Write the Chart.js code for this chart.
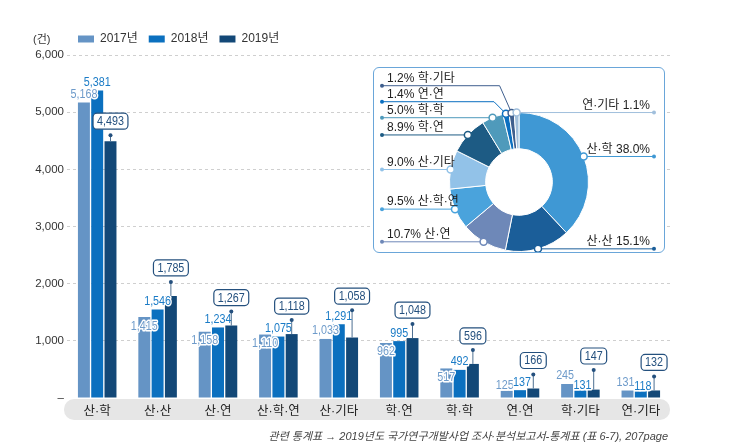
<!DOCTYPE html>
<html>
<head>
<meta charset="utf-8">
<script src="https://cdn.jsdelivr.net/npm/chart.js@4"></script>
<style>
  html, body { margin: 0; padding: 0; background: #fff; }
  #wrap { position: relative; width: 738px; height: 447px; }
  #barBox { position: absolute; left: 0; top: 0; width: 738px; height: 447px; }
  #pieBox { position: absolute; left: 373px; top: 67px; width: 292px; height: 186px; box-sizing: border-box;
            border: 1px solid #6aa6d9; border-radius: 6px; background: #fff; }
  #pieInner { position: absolute; left: 0; top: 0; width: 290px; height: 184px; }
</style>
</head>
<body>
<div id="wrap">
  <div id="barBox"><canvas id="bars"></canvas></div>
  <div id="pieBox"><div id="pieInner"><canvas id="pie"></canvas></div></div>
</div>
<script>
// data
const categories = ['산·학', '산·산', '산·연', '산·학·연', '산·기타', '학·연', '학·학', '연·연', '학·기타', '연·기타'];
const years = ['2017년', '2018년', '2019년'];
const counts2017 = [5168, 1415, 1158, 1110, 1033, 962, 517, 125, 245, 131];
const counts2018 = [5381, 1546, 1234, 1075, 1291, 995, 492, 137, 131, 118];
const counts2019 = [4493, 1785, 1267, 1118, 1058, 1048, 596, 166, 147, 132];
const shares2019 = [38.0, 15.1, 10.7, 9.5, 9.0, 8.9, 5.0, 1.4, 1.2, 1.1];
const yTicks = [0, 1000, 2000, 3000, 4000, 5000, 6000];

const yearColors = ['#6594c5', '#0b70bf', '#134877'];
const pieColors = ['#3f98d4', '#1b5e99', '#6e88b8', '#4aa3dc', '#92c2e8',
                   '#1d5b84', '#4f9abb', '#0b6fc0', '#3f5f8e', '#a1bfdc'];

// Liberation first so the middle dot stays narrow, hangul falls back to Noto CJK
const FONT = "'Liberation Sans', 'Noto Sans CJK KR', sans-serif";

const fmt = v => v.toLocaleString('en-US');

// narrow-looking text: squeeze horizontally a bit
function squeezedText(ctx, txt, x, y, color, outline) {
  ctx.save();
  ctx.translate(x, y);
  ctx.scale(0.86, 1);
  if (outline) {
    ctx.strokeStyle = '#fff';
    ctx.lineWidth = 3;
    ctx.strokeText(txt, 0, 0);
  }
  ctx.fillStyle = color;
  ctx.fillText(txt, 0, 0);
  ctx.restore();
}

// grey band behind the category names, unit label and source line
const categoryBand = {
  id: 'categoryBand',
  beforeDraw(chart) {
    const x = chart.scales.x, ctx = chart.ctx;
    ctx.save();
    ctx.fillStyle = '#e6e6e6';
    ctx.beginPath();
    ctx.roundRect(x.left - 3, x.top + 1, x.right - x.left + 2, x.bottom - x.top - 2, 10);
    ctx.fill();
    ctx.restore();
  },
  afterDraw(chart) {
    const ctx = chart.ctx;
    ctx.save();
    ctx.fillStyle = '#333';
    ctx.font = '11px ' + FONT;
    ctx.textBaseline = 'middle';
    ctx.fillText('(건)', 33, chart.legend.top + 18);
    ctx.fillStyle = '#444';
    ctx.font = 'italic 11px ' + FONT;
    ctx.textAlign = 'right';
    ctx.textBaseline = 'alphabetic';
    ctx.fillText('관련 통계표 → 2019년도 국가연구개발사업 조사·분석보고서-통계표 (표 6-7), 207page', 668, 440);
    ctx.restore();
  }
};

// value labels: plain for 2017/2018, boxed callout for 2019
const barLabels = {
  id: 'barLabels',
  afterDatasetsDraw(chart) {
    const ctx = chart.ctx;
    const m17 = chart.getDatasetMeta(0).data;
    const m18 = chart.getDatasetMeta(1).data;
    const m19 = chart.getDatasetMeta(2).data;
    const base = chart.scales.y.getPixelForValue(0);
    ctx.save();
    ctx.font = '12.5px ' + FONT;
    ctx.textAlign = 'center';
    ctx.textBaseline = 'middle';
    ctx.lineJoin = 'round';
    categories.forEach((c, i) => {
      const b17 = m17[i], b18 = m18[i], b19 = m19[i];
      let x17 = b17.x, x18 = b18.x;
      let y17 = b17.y - 8, y18 = b18.y - 8;
      if (Math.abs(y17 - y18) < 12) {
        if (base - b17.y > 20) {
          y17 = b17.y + 9;
        } else if (b17.y > b18.y) {
          y17 = Math.min(y18 + 11, b17.y - 5); x17 -= 2; x18 += 2;
        } else {
          y18 = Math.min(y17 + 11, b18.y - 5); x17 -= 2; x18 += 2;
        }
      }
      squeezedText(ctx, fmt(counts2017[i]), x17, y17, '#6e9bca', true);
      squeezedText(ctx, fmt(counts2018[i]), x18, y18, '#1a7bc6', true);

      const top = Math.min(b17.y, b18.y, b19.y);
      const diff = b19.y - top;
      const lead = diff > 40 ? 6 : diff + 14;
      const dotY = b19.y - lead;
      ctx.strokeStyle = '#4d6f91';
      ctx.lineWidth = 1;
      ctx.beginPath();
      ctx.moveTo(b19.x, b19.y);
      ctx.lineTo(b19.x, dotY);
      ctx.stroke();
      ctx.fillStyle = '#24507e';
      ctx.beginPath();
      ctx.arc(b19.x, dotY, 2, 0, Math.PI * 2);
      ctx.fill();

      const txt = fmt(counts2019[i]);
      const w = ctx.measureText(txt).width * 0.86 + 8, h = 16;
      const bx = b19.x - w / 2, by = dotY - 6 - h;
      ctx.beginPath();
      ctx.roundRect(bx, by, w, h, 4);
      ctx.fillStyle = '#fff';
      ctx.fill();
      ctx.strokeStyle = '#24507e';
      ctx.lineWidth = 1.2;
      ctx.stroke();
      squeezedText(ctx, txt, b19.x, by + h / 2 + 0.5, '#24507e', false);
    });
    ctx.restore();
  }
};

const seriesValues = [counts2017, counts2018, counts2019];

new Chart(document.getElementById('bars'), {
  type: 'bar',
  data: {
    labels: categories,
    datasets: years.map((y, k) => ({
      label: y,
      data: seriesValues[k],
      backgroundColor: yearColors[k],
      categoryPercentage: 0.66,
      barPercentage: 0.9
    }))
  },
  options: {
    responsive: true,
    maintainAspectRatio: false,
    animation: false,
    layout: { padding: { top: 22, right: 67, bottom: 26, left: 0 } },
    plugins: {
      legend: {
        position: 'top',
        align: 'start',
        fullSize: false,
        labels: { boxWidth: 16, boxHeight: 7, padding: 11, color: '#333', font: { size: 12, family: FONT } }
      },
      tooltip: { enabled: false }
    },
    scales: {
      x: {
        grid: { display: false, drawTicks: false },
        border: { display: false },
        ticks: { padding: 6, color: '#222', font: { size: 12.5, family: FONT } },
        afterFit: s => { s.height = 23; }
      },
      y: {
        min: 0,
        max: 6000,
        afterBuildTicks: s => { s.ticks = yTicks.map(v => ({ value: v })); },
        afterFit: s => { s.width = 67; },
        border: { display: false, dash: [3, 3] },
        grid: {
          drawTicks: false,
          color: c => (c.tick && c.tick.value === 0 ? 'rgba(0,0,0,0)' : '#cfcfcf')
        },
        ticks: {
          padding: 3,
          color: '#333',
          font: { size: 11.5, family: FONT },
          callback: v => (v === 0 ? '–' : fmt(v))
        }
      }
    }
  },
  plugins: [categoryBand, barLabels]
});

// leader lines and labels around the doughnut
const pieLeaders = {
  id: 'pieLeaders',
  afterDraw(chart) {
    const ctx = chart.ctx;
    const meta = chart.getDatasetMeta(0);
    const items = meta.data.map((arc, i) => {
      const p = arc.getProps(['x', 'y', 'startAngle', 'endAngle', 'outerRadius']);
      const a = (p.startAngle + p.endAngle) / 2;
      const px = p.x + Math.cos(a) * p.outerRadius;
      const py = p.y + Math.sin(a) * p.outerRadius;
      return { i, px, py, ly: py, right: px >= p.x - 5 };
    });
    const left = items.filter(o => !o.right).sort((a, b) => b.py - a.py);
    let prev = Infinity;
    left.forEach(o => { o.ly = Math.min(o.py, prev - 16); prev = o.ly; });

    const W = chart.width;
    ctx.save();
    ctx.font = '12px ' + FONT;
    ctx.textBaseline = 'bottom';
    items.forEach(o => {
      const col = pieColors[o.i];
      const endX = o.right ? W - 10 : 8;
      ctx.strokeStyle = col;
      ctx.lineWidth = 1;
      ctx.beginPath();
      ctx.moveTo(endX, o.ly);
      if (Math.abs(o.ly - o.py) > 0.5) ctx.lineTo(o.px - 12, o.ly);
      ctx.lineTo(o.px, o.py);
      ctx.stroke();
      ctx.fillStyle = col;
      ctx.beginPath();
      ctx.arc(endX, o.ly, 2, 0, Math.PI * 2);
      ctx.fill();
      ctx.beginPath();
      ctx.arc(o.px, o.py, 3.5, 0, Math.PI * 2);
      ctx.fillStyle = '#fff';
      ctx.fill();
      ctx.lineWidth = 1.5;
      ctx.stroke();

      const share = shares2019[o.i].toFixed(1) + '%';
      if (o.right) {
        ctx.textAlign = 'right';
        ctx.fillStyle = '#222';
        ctx.fillText(categories[o.i] + ' ' + share, W - 14, o.ly - 1);
      } else {
        ctx.textAlign = 'left';
        ctx.fillStyle = '#222';
        ctx.fillText(share + ' ' + categories[o.i], 13, o.ly - 1);
      }
    });
    ctx.restore();
  }
};

new Chart(document.getElementById('pie'), {
  type: 'doughnut',
  data: {
    labels: categories,
    datasets: [{ data: shares2019, backgroundColor: pieColors, borderColor: '#fff', borderWidth: 1 }]
  },
  options: {
    responsive: true,
    maintainAspectRatio: false,
    animation: false,
    cutout: '48%',
    layout: { padding: { top: 44, bottom: 0, left: 0, right: 0 } },
    plugins: { legend: { display: false }, tooltip: { enabled: false } }
  },
  plugins: [pieLeaders]
});
</script>
</body>
</html>
